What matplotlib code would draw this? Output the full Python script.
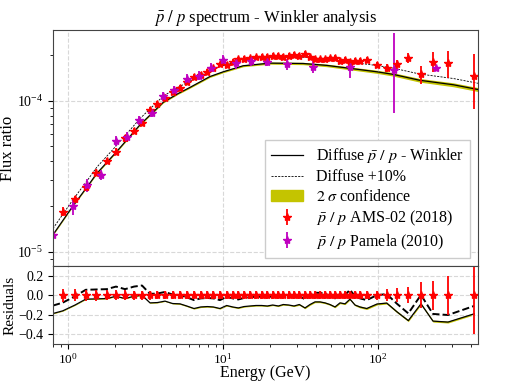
import numpy as np
import matplotlib
matplotlib.use('Agg')
import matplotlib.pyplot as plt
from matplotlib.patches import Patch
from matplotlib.lines import Line2D

plt.rcParams['font.family'] = 'Liberation Serif'
plt.rcParams['mathtext.fontset'] = 'stix'

# model curve (diffuse pbar/p, Winkler)
model_E = [0.80, 1.07, 1.33, 1.53, 2.06, 2.91, 4.12, 5.14, 6.13, 8.23, 10.05,
           13.5, 20.1, 32.9, 46.6, 98.3, 125, 186, 306, 442]
model_v = [1.30e-5, 2.00e-5, 2.70e-5, 3.30e-5, 4.62e-5, 6.94e-5, 0.98e-4, 1.12e-4,
           1.23e-4, 1.45e-4, 1.56e-4, 1.71e-4, 1.78e-4, 1.77e-4, 1.72e-4, 1.56e-4,
           1.50e-4, 1.37e-4, 1.28e-4, 1.19e-4]
band_rel = [0.008, 0.008, 0.008, 0.009, 0.009, 0.01, 0.01, 0.011, 0.012, 0.013, 0.014,
            0.015, 0.016, 0.018, 0.02, 0.024, 0.026, 0.028, 0.03, 0.03]

# AMS-02 (2018)
ams_E = [0.924, 1.110, 1.301, 1.516, 1.777, 2.040, 2.332, 2.666, 3.002, 3.381, 3.769,
         4.225, 4.737, 5.280, 5.833, 6.501, 7.180, 7.920, 8.658, 9.563, 10.56, 11.55,
         12.55, 13.66, 14.94, 16.33, 17.77, 19.32, 20.93, 22.75, 24.49, 26.54, 28.72,
         31.07, 33.81, 36.41, 39.22, 42.26, 45.51, 49.01, 52.80, 56.88, 61.25, 65.98,
         71.07, 76.55, 84.57, 98.5, 113.8, 132.6, 156.9, 189.4, 226.4, 282.9, 418.1]
ams_v = [1.85e-5, 2.23e-5, 2.68e-5, 3.35e-5, 4.01e-5, 4.62e-5, 5.66e-5, 6.35e-5, 7.11e-5,
         8.71e-5, 9.55e-5, 1.04e-4, 1.15e-4, 1.225e-4, 1.330e-4, 1.448e-4, 1.486e-4,
         1.563e-4, 1.646e-4, 1.750e-4, 1.731e-4, 1.821e-4, 1.889e-4, 1.897e-4, 1.918e-4,
         1.947e-4, 1.956e-4, 1.965e-4, 1.995e-4, 1.995e-4, 1.965e-4, 1.986e-4, 2.017e-4,
         1.986e-4, 2.057e-4, 1.965e-4, 1.889e-4, 1.889e-4, 1.889e-4, 1.918e-4, 1.935e-4,
         1.840e-4, 1.868e-4, 1.813e-4, 1.840e-4, 1.840e-4, 1.868e-4, 1.731e-4, 1.662e-4,
         1.750e-4, 1.935e-4, 1.502e-4, 1.821e-4, 1.777e-4, 1.471e-4]
ams_rel = [0.065, 0.06, 0.055, 0.055, 0.05, 0.05, 0.05, 0.045, 0.045, 0.045, 0.04,
           0.04, 0.04, 0.04, 0.04, 0.04, 0.04, 0.04, 0.04, 0.04, 0.04, 0.04, 0.04,
           0.04, 0.04, 0.04, 0.04, 0.04, 0.04, 0.04, 0.04, 0.04, 0.04, 0.04, 0.04,
           0.04, 0.04, 0.04, 0.04, 0.04, 0.04, 0.04, 0.04, 0.04, 0.04, 0.04, 0.04,
           0.045, 0.06, 0.07, 0.08, 0.135, 0.15, 0.2, 0.4]

# residuals of the model w.r.t. AMS-02 (first value at left edge)
res_E = [0.80] + ams_E
res_v = [-0.187, -0.16, -0.10, -0.04, -0.037, -0.034, -0.01, -0.034, -0.01, 0.0, -0.078,
         -0.075, -0.06, -0.085, -0.088, -0.11, -0.136, -0.12, -0.116, -0.12, -0.136,
         -0.105, -0.12, -0.13, -0.116, -0.11, -0.105, -0.105, -0.11, -0.10, -0.11,
         -0.095, -0.10, -0.11, -0.095, -0.13, -0.095, -0.068, -0.068, -0.078, -0.095,
         -0.12, -0.078, -0.088, -0.04, -0.10, -0.12, -0.136, -0.09, -0.08, -0.17,
         -0.26, -0.088, -0.265, -0.275, -0.19]
res_band = [0.004] * 14 + [0.006] * 20 + [0.008] * 12 + [0.01] * 10

# Pamela (2010)
pam_E = [0.804, 1.072, 1.332, 1.625, 2.04, 2.39, 2.89, 3.46, 4.12, 4.83, 5.88, 7.03,
         8.33, 10.06, 12.1, 15.1, 19.3, 25.7, 37.9, 66.2, 126, 236]
pam_v = [1.30e-5, 2.00e-5, 2.78e-5, 3.24e-5, 5.46e-5, 5.81e-5, 7.48e-5, 8.38e-5,
         1.07e-4, 1.18e-4, 1.40e-4, 1.47e-4, 1.66e-4, 1.87e-4, 1.78e-4, 1.84e-4,
         1.82e-4, 1.75e-4, 1.69e-4, 1.69e-4, 1.60e-4, 1.66e-4]
pam_lo = [0.16, 0.12, 0.10, 0.08, 0.08, 0.075, 0.07, 0.06, 0.07, 0.07, 0.07, 0.07,
          0.07, 0.08, 0.08, 0.07, 0.07, 0.08, 0.09, 0.16, 0.48, 0.03]
pam_hi = [0.16, 0.12, 0.10, 0.08, 0.08, 0.075, 0.07, 0.06, 0.07, 0.07, 0.07, 0.07,
          0.07, 0.08, 0.08, 0.07, 0.07, 0.08, 0.09, 0.13, 0.75, 0.03]

model_E = np.array(model_E); model_v = np.array(model_v); band_rel = np.array(band_rel)
ams_E = np.array(ams_E); ams_v = np.array(ams_v); ams_rel = np.array(ams_rel)
res_E = np.array(res_E); res_v = np.array(res_v); res_band = np.array(res_band)
pam_E = np.array(pam_E); pam_v = np.array(pam_v)
pam_err = [pam_v * np.array(pam_lo), pam_v * np.array(pam_hi)]

band_col = '#c4c400'

fig = plt.figure(figsize=(5.31, 3.81), dpi=100)
ax = fig.add_axes([0.0998, 0.3018, 0.8004, 0.6195])
ax2 = fig.add_axes([0.0998, 0.0971, 0.8004, 0.2047], sharex=ax)

ax.fill_between(model_E, model_v * (1 - band_rel), model_v * (1 + band_rel),
                color=band_col, lw=0)
ax.plot(model_E, model_v, 'k-', lw=0.9)
ax.plot(model_E, 1.1 * model_v, 'k--', lw=0.6, dashes=(2.5, 1.5))
ax.errorbar(ams_E, ams_v, yerr=ams_v * ams_rel, fmt='*', color='r', ms=6,
            elinewidth=1.3, capsize=0)
ax.errorbar(pam_E, pam_v, yerr=pam_err, fmt='*', color='m', ms=6,
            elinewidth=1.3, capsize=0)

ax.set_xscale('log')
ax.set_yscale('log')
ax.set_xlim(0.80, 442)
ax.set_ylim(8.07e-6, 2.95e-4)
ax.grid(True, ls='--', color='#d8d8d8', lw=0.8)
ax.tick_params(labelbottom=False)
ax.set_ylabel('Flux ratio', fontsize=12)
ax.yaxis.set_label_coords(-0.088, 0.5)
ax.set_title(r'$\bar{p}\ /\ p$ spectrum - Winkler analysis', fontsize=12)

handles = [Line2D([], [], color='k', lw=0.9),
           Line2D([], [], color='k', lw=0.6, ls='--', dashes=(2.5, 1.5)),
           Patch(color=band_col),
           ax.containers[0], ax.containers[1]]
labels = [r'Diffuse $\bar{p}\ /\ p$ - Winkler', 'Diffuse +10%',
          r'$2\ \sigma$ confidence', r'$\bar{p}\ /\ p$ AMS-02 (2018)',
          r'$\bar{p}\ /\ p$ Pamela (2010)']
ax.legend(handles, labels, loc='lower right', fontsize=11.5, framealpha=1,
          edgecolor='#cccccc', fancybox=False, borderaxespad=0.5,
          labelspacing=0.25, handlelength=2.0, handletextpad=0.8)

ax2.fill_between(res_E, res_v - res_band, res_v + res_band, color=band_col, lw=0)
ax2.plot(res_E, res_v, 'k-', lw=0.9)
ax2.plot(res_E, 1.1 * (1 + res_v) - 1, 'k--', lw=1.4)
ax2.errorbar(ams_E, np.zeros_like(ams_E), yerr=ams_rel, fmt='*', color='r', ms=6,
             elinewidth=1.3, capsize=0)
ax2.set_ylim(-0.5, 0.3)
ax2.set_yticks([0.2, 0.0, -0.2, -0.4])
ax2.grid(True, ls='--', color='#d8d8d8', lw=0.8)
ax2.set_ylabel('Residuals', fontsize=11)
ax2.yaxis.set_label_coords(-0.085, 0.5)
ax2.set_xlabel('Energy (GeV)', fontsize=11.5)
ax2.xaxis.set_label_coords(0.5, -0.265)

for a in (ax, ax2):
    for s in a.spines.values():
        s.set_color('#444444')
    a.tick_params(labelsize=10)
ax2.tick_params(axis='x', which='major', pad=2, labelsize=9.5)

fig.savefig('out.png', dpi=100)
